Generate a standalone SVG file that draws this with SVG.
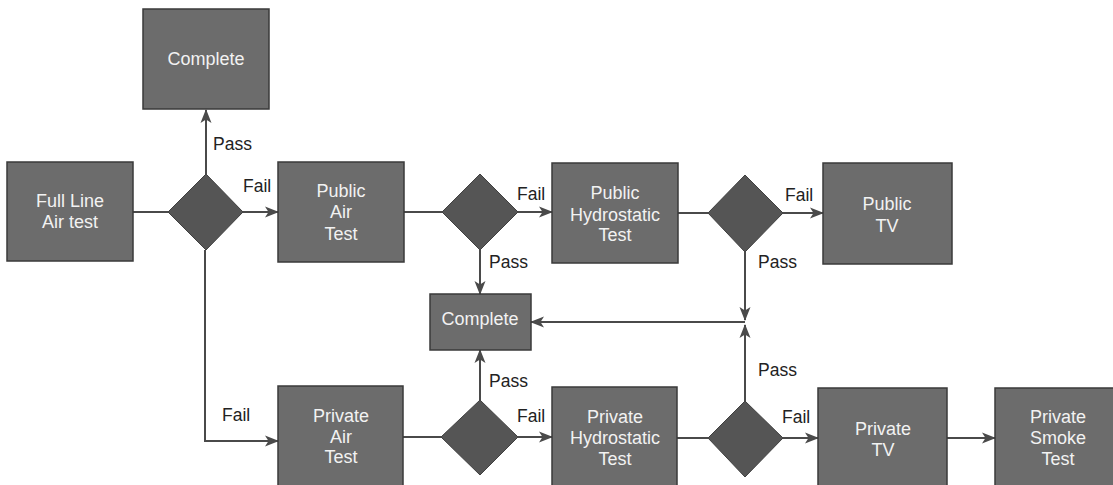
<svg xmlns="http://www.w3.org/2000/svg" width="1113" height="485" viewBox="0 0 1113 485">
<style>
.box{fill:#6c6c6c;stroke:#3a3a3a;stroke-width:1.5}
.dia{fill:#555555;stroke:#404040;stroke-width:1}
.bt{font-family:"Liberation Sans",Arial,sans-serif;font-size:18px;fill:#f2f2f2;text-anchor:middle}
.lb{font-family:"Liberation Sans",Arial,sans-serif;font-size:17.5px;fill:#222}
.ln{stroke:#4a4a4a;stroke-width:2;fill:none}
.ar{marker-end:url(#ah)}
</style>
<defs>
<marker id="ah" markerWidth="14" markerHeight="12" refX="13" refY="6" orient="auto" markerUnits="userSpaceOnUse">
<path d="M0,0.5 L14,6 L0,11.5 L3.5,6 z" fill="#4a4a4a"/>
</marker>
</defs>
<rect width="1113" height="485" fill="#ffffff"/>
<g id="connectors">
<line class="ln" x1="133" y1="212" x2="168" y2="212"/>
<line class="ln ar" x1="206" y1="174" x2="206" y2="110"/>
<line class="ln ar" x1="243" y1="212" x2="278" y2="212"/>
<polyline class="ln ar" points="205,250 205,441 278,441"/>
<line class="ln" x1="404" y1="212" x2="442" y2="212"/>
<line class="ln ar" x1="518" y1="212" x2="552" y2="212"/>
<line class="ln ar" x1="480" y1="250" x2="480" y2="294"/>
<line class="ln" x1="678" y1="213" x2="708" y2="213"/>
<line class="ln ar" x1="783" y1="213" x2="823" y2="213"/>
<line class="ln ar" x1="745" y1="252" x2="745" y2="320"/>
<line class="ln ar" x1="745" y1="322" x2="531" y2="322"/>
<line class="ln ar" x1="745" y1="401" x2="745" y2="325"/>
<line class="ln" x1="403" y1="437" x2="441" y2="437"/>
<line class="ln ar" x1="480" y1="400" x2="480" y2="350"/>
<line class="ln ar" x1="518" y1="437" x2="552" y2="437"/>
<line class="ln" x1="677" y1="438" x2="708" y2="438"/>
<line class="ln ar" x1="783" y1="438" x2="818" y2="438"/>
<line class="ln ar" x1="947" y1="438" x2="995" y2="438"/>
</g>
<g id="labels">
<text class="lb" x="213" y="150">Pass</text>
<text class="lb" x="243" y="192">Fail</text>
<text class="lb" x="222" y="421">Fail</text>
<text class="lb" x="517" y="200">Fail</text>
<text class="lb" x="489" y="268">Pass</text>
<text class="lb" x="489" y="387">Pass</text>
<text class="lb" x="517" y="422">Fail</text>
<text class="lb" x="785" y="201">Fail</text>
<text class="lb" x="758" y="268">Pass</text>
<text class="lb" x="758" y="376">Pass</text>
<text class="lb" x="782" y="423">Fail</text>
</g>
<g id="complete-top"><rect class="box" x="143" y="9" width="126" height="100"/><text class="bt" x="206" y="65">Complete</text></g>
<g id="full-line"><rect class="box" x="7" y="162" width="126" height="99"/><text class="bt" x="70" y="207">Full Line</text><text class="bt" x="70" y="228">Air test</text></g>
<g id="d1"><polygon class="dia" points="206,174 243,212 206,250 168,212"/></g>
<g id="public-air"><rect class="box" x="278" y="162" width="126" height="100"/><text class="bt" x="341" y="197">Public</text><text class="bt" x="341" y="218">Air</text><text class="bt" x="341" y="240">Test</text></g>
<g id="d2"><polygon class="dia" points="480,174 518,212 480,250 442,212"/></g>
<g id="public-hydro"><rect class="box" x="552" y="163" width="126" height="100"/><text class="bt" x="615" y="199">Public</text><text class="bt" x="615" y="221">Hydrostatic</text><text class="bt" x="615" y="241">Test</text></g>
<g id="d3"><polygon class="dia" points="745,175 783,213 745,252 708,213"/></g>
<g id="public-tv"><rect class="box" x="823" y="163" width="129" height="101"/><text class="bt" x="887" y="210">Public</text><text class="bt" x="887" y="232">TV</text></g>
<g id="complete-mid"><rect class="box" x="430" y="294" width="101" height="56"/><text class="bt" x="480" y="325">Complete</text></g>
<g id="private-air"><rect class="box" x="278" y="386" width="125" height="102"/><text class="bt" x="341" y="422">Private</text><text class="bt" x="341" y="443">Air</text><text class="bt" x="341" y="463">Test</text></g>
<g id="d4"><polygon class="dia" points="480,400 518,437 480,475 441,437"/></g>
<g id="private-hydro"><rect class="box" x="552" y="387" width="125" height="101"/><text class="bt" x="615" y="423">Private</text><text class="bt" x="615" y="444">Hydrostatic</text><text class="bt" x="615" y="465">Test</text></g>
<g id="d5"><polygon class="dia" points="745,401 783,438 745,477 708,438"/></g>
<g id="private-tv"><rect class="box" x="818" y="388" width="129" height="100"/><text class="bt" x="883" y="435">Private</text><text class="bt" x="883" y="456">TV</text></g>
<g id="private-smoke"><rect class="box" x="995" y="388" width="127" height="100"/><text class="bt" x="1058" y="423">Private</text><text class="bt" x="1058" y="444">Smoke</text><text class="bt" x="1058" y="465">Test</text></g>
</svg>
